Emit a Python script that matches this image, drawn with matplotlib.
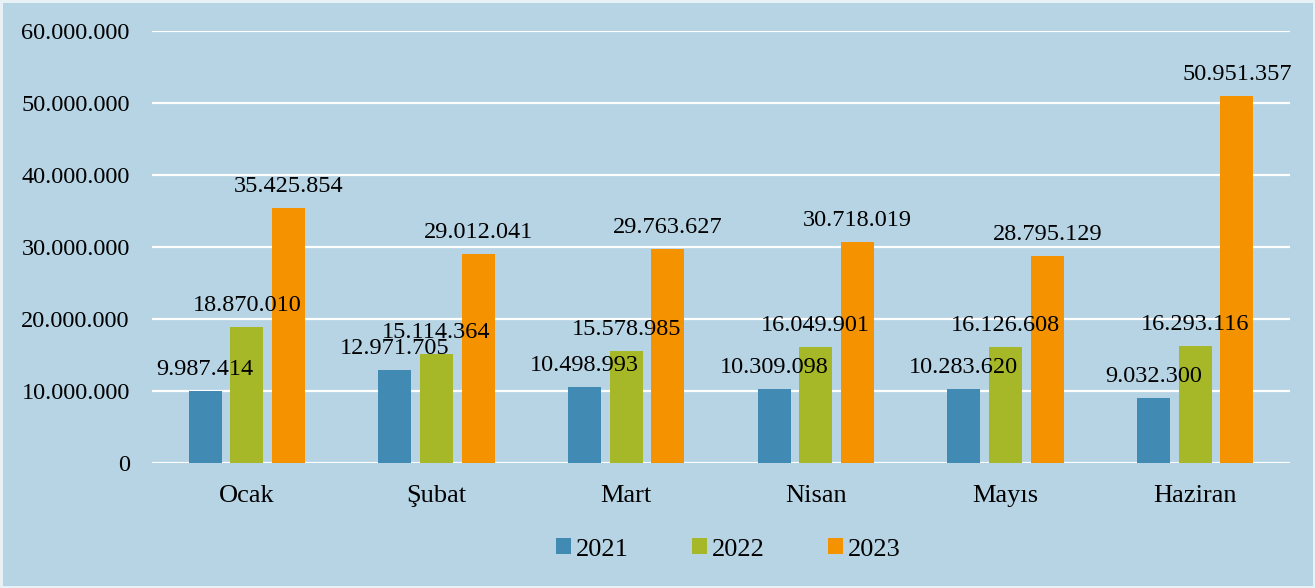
import numpy as np
import matplotlib.pyplot as plt

months = ["Ocak", "Şubat", "Mart", "Nisan", "Mayıs", "Haziran"]
years = ["2021", "2022", "2023"]
v2021 = [9987414, 12971705, 10498993, 10309098, 10283620, 9032300]
v2022 = [18870010, 15114364, 15578985, 16049901, 16126608, 16293116]
v2023 = [35425854, 29012041, 29763627, 30718019, 28795129, 50951357]
colors = ["#418AB3", "#A6B727", "#F59200"]
bg = "#B7D4E5"


def fmt(v):
    return "{:,}".format(int(v)).replace(",", ".")


plt.rcParams["font.family"] = ["Liberation Serif", "DejaVu Serif"]
fig = plt.figure(figsize=(13.15, 5.88), dpi=100, facecolor=bg,
                 edgecolor="#E8F1F6", linewidth=2.5)
ax = fig.add_axes([0.1156, 0.2126, 0.8654, 0.7344], facecolor=bg)

x = np.arange(len(months))
w = 0.174
step = 0.22
for k, (vals, yr) in enumerate(zip([v2021, v2022, v2023], years)):
    pos = x + (k - 1) * step
    ax.bar(pos, vals, width=w, color=colors[k], label=yr, zorder=3)
    for px, v in zip(pos, vals):
        ax.annotate(fmt(v), (px, v), xytext=(0, 8), textcoords="offset points",
                    ha="center", va="bottom", fontsize=17.5, zorder=4)

ax.set_xlim(-0.5, 5.5)
ax.set_ylim(0, 60000000)
ax.set_yticks(np.arange(0, 60000001, 10000000))
ax.set_yticklabels([fmt(t) for t in np.arange(0, 60000001, 10000000)])
ax.set_xticks(x)
ax.set_xticklabels(months)
ax.tick_params(axis="both", length=0)
ax.tick_params(axis="y", pad=16, labelsize=17.5)
ax.tick_params(axis="x", pad=15.5, labelsize=19)
ax.grid(axis="y", color="white", linewidth=1.6, zorder=0)
for s in ax.spines.values():
    s.set_visible(False)

fig.legend(loc="lower center", bbox_to_anchor=(0.554, 0.006), ncol=3, frameon=False,
           fontsize=19, handlelength=0.55, handleheight=0.55, handletextpad=0.2,
           columnspacing=2.4)

fig.savefig("out.png", dpi=100, facecolor=bg, edgecolor="#E8F1F6")
